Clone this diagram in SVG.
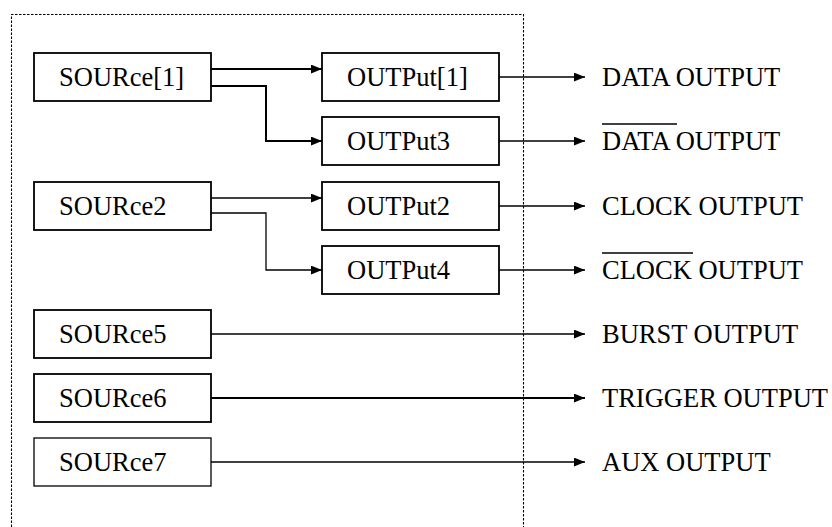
<svg xmlns="http://www.w3.org/2000/svg" width="832" height="527" viewBox="0 0 832 527">
<defs>
<marker id="ah" viewBox="0 0 10 8" refX="10" refY="4" markerWidth="11" markerHeight="9" markerUnits="userSpaceOnUse" orient="auto">
<path d="M0,0 L10,4 L0,8 Z" fill="#000"/>
</marker>
<style>
.box{fill:#fff;stroke:#000;stroke-width:1.8}
.t{font-family:"Liberation Serif","Times New Roman",serif;font-size:26.5px;fill:#000}
.c{fill:none;stroke:#000;stroke-width:1.3}
.ck{fill:none;stroke:#000;stroke-width:2}
.bd{fill:none;stroke:#000;stroke-width:1.1;stroke-dasharray:2.5 1.5}
.ov{stroke:#000;stroke-width:1.3}
</style>
</defs>
<rect width="832" height="527" fill="#fff"/>
<path class="bd" d="M11.5,527 L11.5,14.5 L523.5,14.5 L523.5,527"/>
<g id="connectors">
<path class="ck" d="M211,69 L322,69" marker-end="url(#ah)"/>
<path class="ck" d="M211,86 L266,86 L266,141 L322,141" marker-end="url(#ah)"/>
<path class="c" d="M211,198 L322,198" marker-end="url(#ah)"/>
<path class="c" d="M211,213 L266,213 L266,270 L322,270" marker-end="url(#ah)"/>
<path class="c" d="M499,77 L585,77" marker-end="url(#ah)"/>
<path class="c" d="M499,141 L585,141" marker-end="url(#ah)"/>
<path class="c" d="M499,206 L585,206" marker-end="url(#ah)"/>
<path class="c" d="M499,270 L585,270" marker-end="url(#ah)"/>
<path class="c" style="stroke-width:1.6" d="M211,334 L585,334" marker-end="url(#ah)"/>
<path class="ck" d="M211,398 L585,398" marker-end="url(#ah)"/>
<path class="c" d="M211,462 L585,462" marker-end="url(#ah)"/>
</g>
<g id="source1"><rect class="box" x="34" y="53" width="177" height="48"/><text class="t" x="59" y="86">SOURce[1]</text></g>
<g id="source2"><rect class="box" x="34" y="182" width="177" height="48"/><text class="t" x="59" y="215">SOURce2</text></g>
<g id="source5"><rect class="box" x="34" y="310" width="177" height="48"/><text class="t" x="59" y="343">SOURce5</text></g>
<g id="source6"><rect class="box" x="34" y="374" width="177" height="48"/><text class="t" x="59" y="407">SOURce6</text></g>
<g id="source7"><rect class="box" x="34" y="438" width="177" height="48" style="stroke-width:1.3"/><text class="t" x="59" y="471">SOURce7</text></g>
<g id="output1"><rect class="box" x="322" y="53" width="177" height="48"/><text class="t" x="347" y="86">OUTPut[1]</text></g>
<g id="output3"><rect class="box" x="322" y="117" width="177" height="48"/><text class="t" x="347" y="150">OUTPut3</text></g>
<g id="output2"><rect class="box" x="322" y="182" width="177" height="48"/><text class="t" x="347" y="215">OUTPut2</text></g>
<g id="output4"><rect class="box" x="322" y="246" width="177" height="48"/><text class="t" x="347" y="279">OUTPut4</text></g>
<g id="data-output"><text class="t" x="602" y="86">DATA OUTPUT</text></g>
<g id="data-output-n"><line class="ov" x1="602" y1="124" x2="677" y2="124"/><text class="t" x="602" y="150">DATA OUTPUT</text></g>
<g id="clock-output"><text class="t" x="602" y="215">CLOCK OUTPUT</text></g>
<g id="clock-output-n"><line class="ov" x1="602" y1="253" x2="693" y2="253"/><text class="t" x="602" y="279">CLOCK OUTPUT</text></g>
<g id="burst-output"><text class="t" x="602" y="343">BURST OUTPUT</text></g>
<g id="trigger-output"><text class="t" x="602" y="407">TRIGGER OUTPUT</text></g>
<g id="aux-output"><text class="t" x="602" y="471">AUX OUTPUT</text></g>
</svg>
